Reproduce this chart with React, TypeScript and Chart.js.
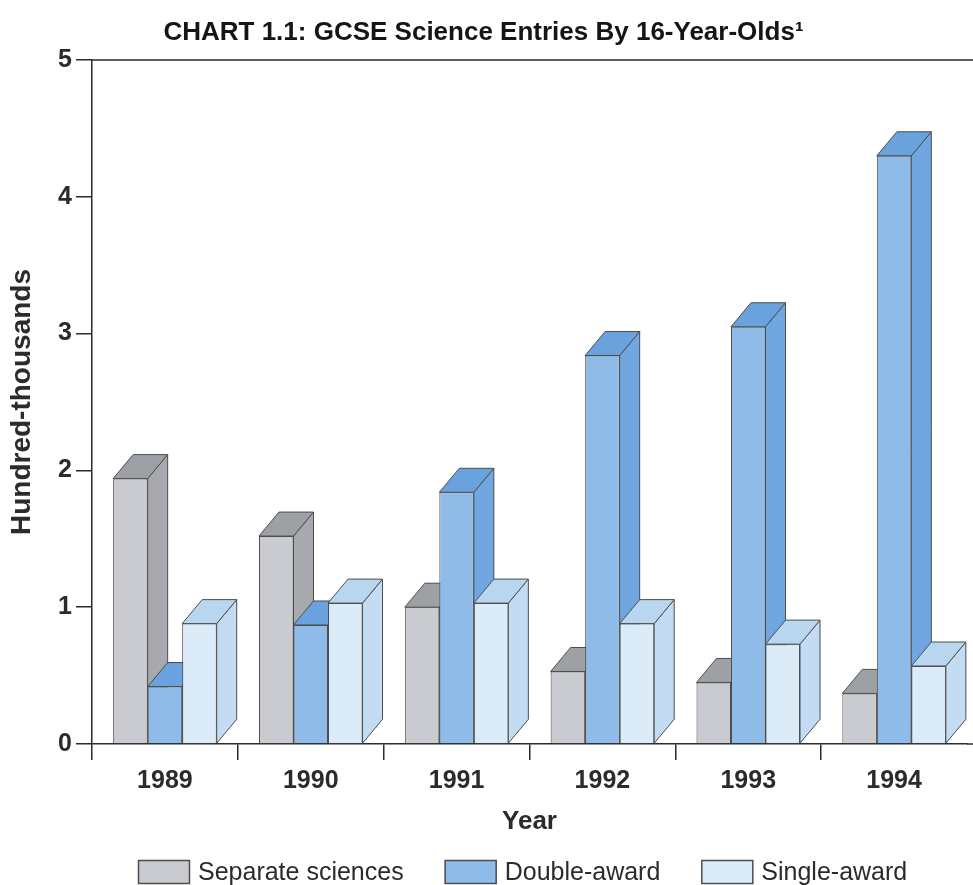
import { useEffect, useRef } from "react";
import { Chart, registerables } from "chart.js";

Chart.register(...registerables);

// GCSE science entries by 16-year-olds, in hundred-thousands
const years = ["1989", "1990", "1991", "1992", "1993", "1994"];
const separateSciences = [1.94, 1.52, 1.0, 0.53, 0.45, 0.37];
const doubleAward = [0.42, 0.87, 1.84, 2.84, 3.05, 4.3];
const singleAward = [0.88, 1.03, 1.03, 0.88, 0.73, 0.57];
const seriesLabels = ["Separate sciences", "Double-award", "Single-award"];
const yMin = 0;
const yMax = 5;
const yStep = 1;

const FONT = '"Liberation Sans", Arial, Helvetica, sans-serif';
const INK = "#2b2b2b";
const EDGE = "#4d4d4d";

// front / side / top shading of each series' boxes
const faces = [
  { front: "#c9cbd0", side: "#a7a9ae", top: "#9da0a5" },
  { front: "#8ebbe8", side: "#70a7e0", top: "#69a2dd" },
  { front: "#dcebf8", side: "#c3dcf3", top: "#b9d6f1" },
];

// oblique depth of each box
const DEPTH_X = 20;
const DEPTH_Y = 24;

// Side and top faces go down first, left series to right series, so the
// front faces Chart.js draws afterwards hide whatever lies behind them.
const bar3d = {
  id: "bar3d",
  beforeDatasetsDraw(chart: any) {
    const ctx: CanvasRenderingContext2D = chart.ctx;
    ctx.save();
    ctx.lineWidth = 1;
    ctx.strokeStyle = EDGE;
    chart.data.datasets.forEach((_ds: any, di: number) => {
      const meta = chart.getDatasetMeta(di);
      if (meta.hidden) return;
      const f = faces[di];
      for (const bar of meta.data) {
        const { x, y, base, width } = bar.getProps(["x", "y", "base", "width"], true);
        const l = x - width / 2;
        const r = x + width / 2;
        // right-hand side face
        ctx.beginPath();
        ctx.moveTo(r, y);
        ctx.lineTo(r + DEPTH_X, y - DEPTH_Y);
        ctx.lineTo(r + DEPTH_X, base - DEPTH_Y);
        ctx.lineTo(r, base);
        ctx.closePath();
        ctx.fillStyle = f.side;
        ctx.fill();
        ctx.stroke();
        // top face
        ctx.beginPath();
        ctx.moveTo(l, y);
        ctx.lineTo(l + DEPTH_X, y - DEPTH_Y);
        ctx.lineTo(r + DEPTH_X, y - DEPTH_Y);
        ctx.lineTo(r, y);
        ctx.closePath();
        ctx.fillStyle = f.top;
        ctx.fill();
        ctx.stroke();
      }
    });
    ctx.restore();
  },
};

// top frame line and the run-out of the baseline to the page edge
const frame = {
  id: "frame",
  afterDraw(chart: any) {
    const { ctx, chartArea, width } = chart;
    ctx.save();
    ctx.strokeStyle = INK;
    ctx.lineWidth = 1.5;
    ctx.beginPath();
    ctx.moveTo(chartArea.left, chartArea.top);
    ctx.lineTo(width, chartArea.top);
    ctx.moveTo(chartArea.right, chartArea.bottom);
    ctx.lineTo(width, chartArea.bottom);
    ctx.stroke();
    ctx.restore();
  },
};

// key row beneath the axis title
const keyRow = {
  id: "keyRow",
  afterDraw(chart: any) {
    const { ctx, chartArea } = chart;
    const cy = chartArea.bottom + 128;
    const boxW = 52;
    const boxH = 24;
    ctx.save();
    ctx.font = `25px ${FONT}`;
    ctx.textBaseline = "middle";
    ctx.textAlign = "left";
    let x = chartArea.left + 46;
    chart.data.datasets.forEach((ds: any, i: number) => {
      ctx.fillStyle = faces[i].front;
      ctx.fillRect(x, cy - boxH / 2, boxW, boxH);
      ctx.strokeStyle = EDGE;
      ctx.lineWidth = 1.5;
      ctx.strokeRect(x + 0.5, cy - boxH / 2 + 0.5, boxW - 1, boxH - 1);
      ctx.fillStyle = INK;
      ctx.fillText(ds.label, x + boxW + 8, cy + 1);
      x += boxW + 8 + ctx.measureText(ds.label).width + 41;
    });
    ctx.restore();
  },
};

export default function App() {
  const ref = useRef<HTMLCanvasElement>(null);

  useEffect(() => {
    Chart.defaults.font.family = FONT;
    const series = [separateSciences, doubleAward, singleAward];
    const chart = new Chart(ref.current as HTMLCanvasElement, {
      type: "bar",
      data: {
        labels: years,
        datasets: series.map((values, i) => ({
          label: seriesLabels[i],
          data: values,
          backgroundColor: faces[i].front,
          borderColor: EDGE,
          borderWidth: 1,
          categoryPercentage: 0.71,
          barPercentage: 1,
        })),
      },
      options: {
        responsive: false,
        animation: false,
        layout: { padding: { left: 0, right: 6, top: 0, bottom: 41 } },
        plugins: {
          legend: { display: false },
          tooltip: { enabled: false },
          title: {
            display: true,
            text: "CHART 1.1: GCSE Science Entries By 16-Year-Olds\u00B9",
            color: "#151515",
            font: { size: 26, weight: "bold" },
            padding: { top: 17, bottom: 11.8 },
          },
        },
        scales: {
          x: {
            grid: {
              offset: true,
              drawOnChartArea: false,
              tickLength: 16,
              lineWidth: 1.5,
              color: (c: any) => (c.type === "tick" ? INK : "transparent"),
            },
            border: { display: true, color: INK, width: 1.5 },
            ticks: {
              color: INK,
              padding: 6,
              maxRotation: 0,
              font: { size: 25, weight: "bold" },
            },
            title: {
              display: true,
              text: "Year",
              color: INK,
              font: { size: 26, weight: "bold" },
              padding: { top: 0, bottom: 7 },
            },
            afterFit: (s: any) => {
              s.height = 100;
            },
          },
          y: {
            min: yMin,
            max: yMax,
            grid: {
              drawOnChartArea: false,
              tickLength: 16,
              lineWidth: 1.5,
              color: INK,
            },
            border: { display: true, color: INK, width: 1.5 },
            ticks: {
              stepSize: yStep,
              color: INK,
              padding: 4,
              font: { size: 25, weight: "bold" },
            },
            title: {
              display: true,
              text: "Hundred-thousands",
              color: INK,
              font: { size: 28, weight: "bold" },
              padding: { top: 5, bottom: 0 },
            },
            afterFit: (s: any) => {
              s.width = 92;
            },
          },
        },
      },
      plugins: [bar3d, frame, keyRow],
    } as any);
    return () => chart.destroy();
  }, []);

  return (
    <div
      style={{
        position: "fixed",
        left: 0,
        top: 0,
        width: 973,
        height: 885,
        background: "#ffffff",
      }}
    >
      <canvas ref={ref} width={973} height={885} style={{ display: "block", width: 973, height: 885 }} />
    </div>
  );
}
